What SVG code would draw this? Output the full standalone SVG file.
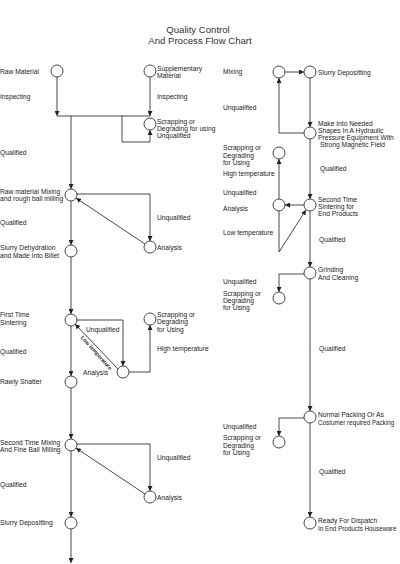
<svg xmlns="http://www.w3.org/2000/svg" width="400" height="564" viewBox="0 0 400 564">
<defs>
<style>
.n circle{fill:#fff;stroke:#333;stroke-width:0.9}
text{font-family:"Liberation Sans",Arial,sans-serif;font-size:6.7px;fill:#222}
.t{font-size:9.6px;fill:#333;text-anchor:middle}
.c path,.c line,.c polyline{fill:none;stroke:#333;stroke-width:0.9}
.rot{font-size:5.4px;font-weight:bold}
.sm{font-size:6.3px}
</style>
<marker id="a" viewBox="0 0 6 6" refX="6" refY="3" markerWidth="5" markerHeight="5" markerUnits="userSpaceOnUse" orient="auto"><path d="M0,0L6,3L0,6z" fill="#222"/></marker>
</defs>
<rect width="400" height="564" fill="#fff"/>
<g id="title">
<text class="t" x="198" y="33">Quality Control</text>
<text class="t" x="200" y="44">And Process Flow Chart</text>
</g>
<g id="connectors" class="c">
<line x1="57" y1="77" x2="57" y2="116" marker-end="url(#a)"/>
<line x1="150" y1="77" x2="150" y2="116" marker-end="url(#a)"/>
<line x1="57" y1="116" x2="150" y2="116"/>
<polyline points="122,116 122,142 150,142 150,130" marker-end="url(#a)"/>
<line x1="71" y1="116" x2="71" y2="189" marker-end="url(#a)"/>
<polyline points="77,194 150,194 150,241" marker-end="url(#a)"/>
<line x1="145" y1="244" x2="76" y2="198" marker-end="url(#a)"/>
<line x1="71" y1="201" x2="71" y2="245" marker-end="url(#a)"/>
<line x1="71" y1="257" x2="71" y2="314" marker-end="url(#a)"/>
<polyline points="76,320 123,320 123,366" marker-end="url(#a)"/>
<line x1="118" y1="369" x2="75" y2="324" marker-end="url(#a)"/>
<polyline points="129,372 150,372 150,325" marker-end="url(#a)"/>
<line x1="71" y1="326" x2="71" y2="376" marker-end="url(#a)"/>
<line x1="71" y1="388" x2="71" y2="439" marker-end="url(#a)"/>
<polyline points="77,444 150,444 150,491" marker-end="url(#a)"/>
<line x1="145" y1="494" x2="76" y2="448" marker-end="url(#a)"/>
<line x1="71" y1="451" x2="71" y2="517" marker-end="url(#a)"/>
<line x1="71" y1="529" x2="71" y2="563" marker-end="url(#a)"/>
<line x1="285" y1="72" x2="304" y2="72" marker-end="url(#a)"/>
<line x1="310" y1="78" x2="310" y2="127" marker-end="url(#a)"/>
<polyline points="304,133 279,133 279,78" marker-end="url(#a)"/>
<line x1="310" y1="139" x2="310" y2="199" marker-end="url(#a)"/>
<line x1="304" y1="205" x2="285" y2="205" marker-end="url(#a)"/>
<line x1="279" y1="199" x2="279" y2="159" marker-end="url(#a)"/>
<polyline points="279,211 279,252 306,210" marker-end="url(#a)"/>
<line x1="310" y1="211" x2="310" y2="267" marker-end="url(#a)"/>
<polyline points="304,274 279,274 279,292" marker-end="url(#a)"/>
<line x1="310" y1="279" x2="310" y2="411" marker-end="url(#a)"/>
<polyline points="304,418 279,418 279,436" marker-end="url(#a)"/>
<line x1="310" y1="423" x2="310" y2="517" marker-end="url(#a)"/>
</g>
<g id="raw-material" class="n"><circle cx="57" cy="71" r="6"/><text x="0" y="73.5">Raw Material</text></g>
<g id="supplementary" class="n"><circle cx="150" cy="71" r="6"/><text x="157" y="71">Supplementary</text><text x="157" y="78">Material</text></g>
<g id="inspect-labels"><text x="0" y="99">Inspecting</text><text x="157" y="99">Inspecting</text></g>
<g id="scrap1" class="n"><circle cx="150" cy="124" r="6"/><text x="157" y="123.5">Scrapping or</text><text x="157" y="130.5">Degrading for using</text><text x="157" y="137.5">Unqualified</text></g>
<g id="mixing1" class="n"><circle cx="71" cy="195" r="6"/><text x="0" y="194">Raw material Mixing</text><text x="0" y="201">and rough ball milling</text></g>
<g id="analysis1" class="n"><circle cx="150" cy="247" r="6"/><text x="157" y="249.5">Analysis</text></g>
<g id="dehydration" class="n"><circle cx="71" cy="251" r="6"/><text x="0" y="250">Slurry Dehydration</text><text x="0" y="257.5">and Made Into Billet</text></g>
<g id="sintering1" class="n"><circle cx="71" cy="320" r="6"/><text x="0" y="316.5">First Time</text><text x="0" y="324.5">Sintering</text></g>
<g id="analysis2" class="n"><circle cx="123" cy="372" r="6"/><text x="108" y="374.5" text-anchor="end">Analysis</text></g>
<g id="scrap2" class="n"><circle cx="150" cy="319" r="6"/><text x="157" y="316.5">Scrapping or</text><text x="157" y="324">Degrading</text><text x="157" y="331.5">for Using</text></g>
<g id="shatter" class="n"><circle cx="71" cy="382" r="6"/><text x="0" y="383.5">Rawly Shatter</text></g>
<g id="mixing2" class="n"><circle cx="71" cy="445" r="6"/><text x="0" y="444.5">Second Time Mixing</text><text x="0" y="451.5">And Fine Ball Milling</text></g>
<g id="analysis3" class="n"><circle cx="150" cy="497" r="6"/><text x="157" y="499.5">Analysis</text></g>
<g id="depositing1" class="n"><circle cx="71" cy="523" r="6"/><text x="0" y="524.5">Slurry Depositting</text></g>
<g id="left-labels">
<text x="0" y="154.5">Qualified</text>
<text x="157" y="219.5">Unqualified</text>
<text x="0" y="224.5">Qualified</text>
<text x="86" y="331.5">Unqualified</text>
<text x="157" y="350.5">High temperature</text>
<text x="0" y="353.5">Qualified</text>
<text class="rot" x="95" y="354" text-anchor="middle" transform="rotate(48 95 354)">Low temperature</text>
<text x="157" y="459.5">Unqualified</text>
<text x="0" y="486.5">Qualified</text>
</g>
<g id="mixing-r" class="n"><circle cx="279" cy="72" r="6"/><text x="223" y="73.5">Mixing</text></g>
<g id="depositing-r" class="n"><circle cx="310" cy="72" r="6"/><text x="318" y="74.5">Slurry Depositting</text></g>
<g id="shaping" class="n"><circle cx="310" cy="133" r="6"/><text x="318" y="125.5">Make Into Needed</text><text x="318" y="132.5">Shapes In A Hydraulic</text><text x="318" y="139.5">Pressure Equipment With</text><text x="320" y="146.5">Strong Magnetic Field</text></g>
<g id="scrap3" class="n"><circle cx="279" cy="153" r="6"/><text x="223" y="150">Scrapping or</text><text x="223" y="157.5">Degrading</text><text x="223" y="165">for Using</text></g>
<g id="sintering2" class="n"><circle cx="310" cy="205" r="6"/><text x="318" y="201.5">Second Time</text><text x="318" y="208.5">Sintering for</text><text x="318" y="215.5">End Products</text></g>
<g id="analysis4" class="n"><circle cx="279" cy="205" r="6"/><text x="223" y="210.5">Analysis</text></g>
<g id="grinding" class="n"><circle cx="310" cy="273" r="6"/><text x="318" y="271.5">Grinding</text><text x="318" y="279.5">And Cleaning</text></g>
<g id="scrap4" class="n"><circle cx="279" cy="298" r="6"/><text x="223" y="295.5">Scrapping or</text><text x="223" y="302.5">Degrading</text><text x="223" y="309.5">for Using</text></g>
<g id="packing" class="n"><circle cx="310" cy="417" r="6"/><text x="318" y="416.5">Normal Packing Or As</text><text class="sm" x="318" y="424.5">Costumer required Packing</text></g>
<g id="scrap5" class="n"><circle cx="279" cy="442" r="6"/><text x="223" y="440">Scrapping or</text><text x="223" y="447.5">Degrading</text><text x="223" y="455">for Using</text></g>
<g id="dispatch" class="n"><circle cx="310" cy="523" r="6"/><text x="318" y="522.5">Ready For Dispatch</text><text class="sm" x="318" y="530.5">In End Products Houseware</text></g>
<g id="right-labels">
<text x="223" y="109.5">Unqualified</text>
<text x="320" y="170.5">Qualified</text>
<text x="223" y="175.5">High temperature</text>
<text x="223" y="194.5">Unqualified</text>
<text x="223" y="234.5">Low temperature</text>
<text x="319" y="241.5">Qualified</text>
<text x="223" y="283.5">Unqualified</text>
<text x="319" y="350.5">Qualified</text>
<text x="223" y="428.5">Unqualified</text>
<text x="319" y="473.5">Qualified</text>
</g>
</svg>
